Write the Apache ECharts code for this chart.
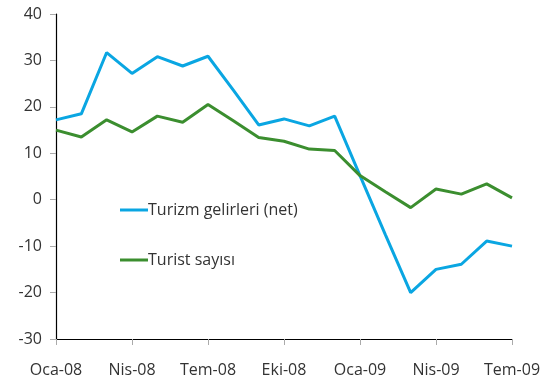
<!DOCTYPE html>
<html>
<head>
<meta charset="utf-8">
<script src="https://cdn.jsdelivr.net/npm/echarts@6/dist/echarts.min.js"></script>
<style>
  html, body { margin: 0; padding: 0; background: #fff; }
  #chart { width: 544px; height: 387px; }
</style>
</head>
<body>
<div id="chart"></div>
<script>
// Monthly categories, Jan 2008 – Jul 2009 (Turkish month abbreviations)
const months = ['Oca-08','Şub-08','Mar-08','Nis-08','May-08','Haz-08','Tem-08','Ağu-08','Eyl-08',
                'Eki-08','Kas-08','Ara-08','Oca-09','Şub-09','Mar-09','Nis-09','May-09','Haz-09','Tem-09'];

// Annual % change
const turizmGelirleri = [17.2, 18.5, 31.7, 27.2, 30.8, 28.8, 30.9, 23.6, 16.1, 17.4, 15.9, 18.0,
                         5.2, -7.5, -20.0, -15.0, -13.9, -8.9, -10.0];
const turistSayisi = [15.0, 13.5, 17.2, 14.6, 18.0, 16.7, 20.5, 17.0, 13.4, 12.6, 10.9, 10.6,
                      5.2, 1.7, -1.7, 2.3, 1.2, 3.4, 0.4];

const seriesNames = ['Turizm gelirleri (net)', 'Turist sayısı'];
const FONT = '"Open Sans", "Noto Sans", sans-serif';

const chart = echarts.init(document.getElementById('chart'), null, { renderer: 'canvas' });
chart.setOption({
  animation: false,
  grid: { left: 56, right: 32, top: 14, bottom: 48, containLabel: false },
  legend: {
    orient: 'vertical',
    left: 115,
    top: 195,
    itemWidth: 28,
    itemHeight: 3,
    itemGap: 30,
    icon: 'rect',
    textStyle: { fontFamily: FONT, fontSize: 16, color: '#333', lineHeight: 20, padding: [0, 0, 0, -5] },
    data: seriesNames
  },
  xAxis: {
    type: 'category',
    data: months,
    boundaryGap: false,
    axisLine: { onZero: false, lineStyle: { color: '#000', width: 1.2 } },
    axisTick: { show: true, interval: 2, length: 6, lineStyle: { color: '#aaa' } },
    axisLabel: { interval: 2, color: '#333', fontFamily: FONT, fontSize: 16, margin: 23 },
    splitLine: { show: false }
  },
  yAxis: {
    type: 'value',
    min: -30,
    max: 40,
    interval: 10,
    axisLine: { show: true, lineStyle: { color: '#000', width: 1.2 } },
    axisTick: { show: true, length: 6, lineStyle: { color: '#aaa' } },
    axisLabel: { color: '#333', fontFamily: FONT, fontSize: 16, margin: 14 },
    splitLine: { show: false }
  },
  series: [
    {
      name: seriesNames[0],
      type: 'line',
      data: turizmGelirleri,
      symbol: 'none',
      lineStyle: { color: '#0AA6E2', width: 3 },
      itemStyle: { color: '#0AA6E2' }
    },
    {
      name: seriesNames[1],
      type: 'line',
      data: turistSayisi,
      symbol: 'none',
      lineStyle: { color: '#3B8E2F', width: 3 },
      itemStyle: { color: '#3B8E2F' }
    }
  ]
});
</script>
</body>
</html>
